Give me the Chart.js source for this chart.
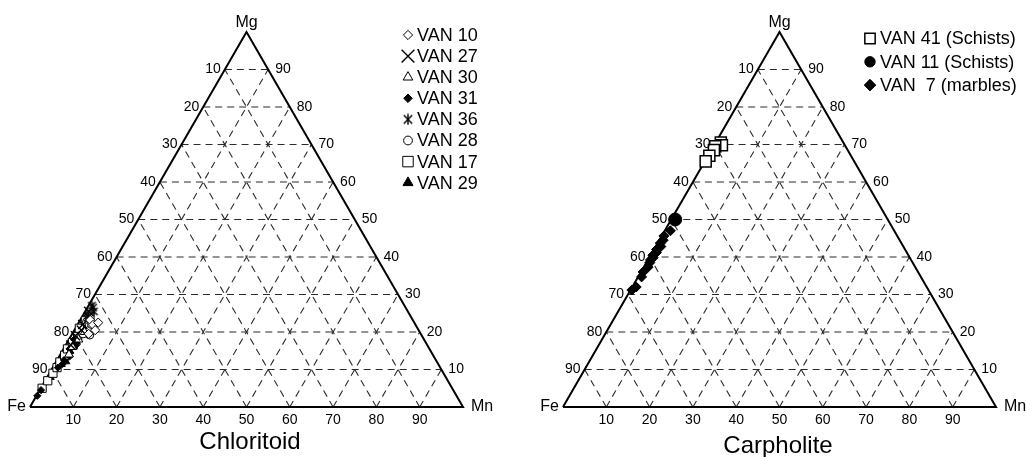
<!DOCTYPE html>
<html><head><meta charset="utf-8">
<script src="https://cdn.jsdelivr.net/npm/chart.js@4/dist/chart.umd.min.js"></script>
<style>
html,body{margin:0;padding:0;background:#fff;}
#wrap{position:relative;width:1026px;height:457px;overflow:hidden;}
.c{position:absolute;top:0;width:513px;height:457px;}
</style></head><body>
<div id="wrap">
<div class="c" style="left:0"><canvas id="c1" width="513" height="457"></canvas></div>
<div class="c" style="left:513px"><canvas id="c2" width="513" height="457"></canvas></div>
</div>
<script>
// ---------- data (percent values; Fe = 100 - Mg - Mn) ----------
const TICKS = [10, 20, 30, 40, 50, 60, 70, 80, 90];
const VERTEX_LABELS = ['Fe', 'Mn', 'Mg'];
const TITLES = ['Chloritoid', 'Carpholite'];

// Chloritoid series: [Mg, Mn]
const CHL_NAMES = ['VAN 10', 'VAN 27', 'VAN 30', 'VAN 31', 'VAN 36', 'VAN 28', 'VAN 17', 'VAN 29'];
const VAN10 = [[23.2, 2.3], [21.9, 3.6], [20.5, 4.8], [22.5, 4.5], [19.5, 3.8]];
const VAN27 = [[25.5, 0.8], [24.0, 1.5], [22.0, 1.2], [20.5, 1.6], [19.0, 1.0], [16.5, 1.2]];
const VAN30 = [[18.0, 2.2], [16.0, 1.8], [14.0, 2.0], [20.0, 2.6]];
const VAN31 = [[3.0, 0.2], [4.5, 0.3], [10.5, 1.2], [11.5, 1.8], [12.5, 1.6], [14.5, 2.0], [15.5, 1.4], [16.5, 2.4], [18.0, 1.2], [13.5, 2.4], [17.2, 2.0]];
const VAN36 = [[26.5, 1.3], [25.5, 2.0], [24.5, 1.2], [27.0, 0.8]];
const VAN28 = [[22.7, 1.7], [21.5, 2.8], [20.5, 3.5], [19.2, 4.2], [22.0, 3.2], [19.5, 2.5]];
const VAN17 = [[5.0, 0.3], [7.0, 0.6], [9.0, 0.8], [10.5, 1.0], [12.0, 0.9], [13.8, 1.1], [15.5, 0.9], [17.2, 1.2], [18.8, 1.6], [21.0, 0.9], [23.0, 1.3], [24.5, 1.6]];
const VAN29 = [[8.0, 0.6], [11.5, 1.4], [12.2, 2.1], [13.0, 1.3], [14.2, 1.5], [15.0, 1.6], [16.2, 1.9], [17.5, 1.8], [19.5, 1.3], [21.0, 1.5]];

// Carpholite series: [Mg, Mn]
const CAR_NAMES = ['VAN 41 (Schists)', 'VAN 11 (Schists)', 'VAN  7 (marbles)'];
const VAN41 = [[70.5, 1.2], [69.8, 1.8], [69.5, 0.4], [68.5, 0.6], [67.0, 0.3], [65.5, 0.2]];
const VAN11 = [[50.0, 0.9]];
const VAN7 = [[47.0, 1.3], [45.6, 0.5], [44.5, 0.9], [43.7, 0.6], [42.8, 1.2], [42.0, 0.6], [41.2, 1.0], [40.5, 0.5], [39.8, 0.9], [39.2, 0.6], [38.5, 0.8], [37.3, 1.0], [36.0, 0.5], [34.7, 0.8], [32.0, 0.9], [31.2, 0.3]];

// ---------- helpers ----------
const FONT = '"Liberation Sans", Arial, Helvetica, sans-serif';
const PX = 4.33;               // pixels per percent along an edge
const HF = Math.sqrt(3) / 2;
function tern(mg, mn) { return { x: mn + mg / 2, y: mg * HF }; }

function makeAsterisk(size, lw) {
  const c = document.createElement('canvas');
  c.width = size; c.height = size;
  const g = c.getContext('2d');
  g.strokeStyle = '#000'; g.lineWidth = lw;
  const m = size / 2, a = size / 2 - 0.6;
  g.beginPath();
  g.moveTo(m, m - a); g.lineTo(m, m + a);
  const d = a * 0.78;
  g.moveTo(m - d, m - d); g.lineTo(m + d, m + d);
  g.moveTo(m + d, m - d); g.lineTo(m - d, m + d);
  g.stroke();
  return c;
}
const AST_SMALL = makeAsterisk(11, 1.3);
const AST_LEG = makeAsterisk(12, 1.4);

const CHL_STYLE = [
  { ps: 'rectRot', fill: '#fff', r: 4.6, lr: 4.6, bw: 1 },
  { ps: 'crossRot', fill: '#000', r: 6.5, lr: 9, bw: 1.4 },
  { ps: 'triangle', fill: '#fff', r: 5, lr: 5.6, bw: 1 },
  { ps: 'rectRot', fill: '#000', r: 3.6, lr: 4.3, bw: 1 },
  { ps: AST_SMALL, legPs: AST_LEG, fill: '#000', r: 5, lr: 6, bw: 1.2 },
  { ps: 'circle', fill: '#fff', r: 4, lr: 4.4, bw: 1 },
  { ps: 'rect', fill: '#fff', r: 5.8, lr: 7.4, bw: 1 },
  { ps: 'triangle', fill: '#000', r: 5, lr: 5.8, bw: 1 }
];
const CAR_STYLE = [
  { ps: 'rect', fill: '#fff', r: 7.8, lr: 7.3, bw: 1.5 },
  { ps: 'circle', fill: '#000', r: 6.5, lr: 5.2, bw: 1 },
  { ps: 'rectRot', fill: '#000', r: 5, lr: 5.8, bw: 1 }
];

function gridDatasets() {
  const ds = [];
  const mk = (a, b) => ({
    data: [tern(a[0], a[1]), tern(b[0], b[1])],
    showLine: true, pointRadius: 0, borderColor: '#2a2a2a', borderWidth: 1.1,
    borderDash: [7, 5], order: 3, clip: false
  });
  TICKS.forEach(t => {
    ds.push(mk([t, 0], [t, 100 - t]));        // constant Mg
    ds.push(mk([0, t], [100 - t, t]));        // constant Mn
    ds.push(mk([0, 100 - t], [100 - t, 0]));  // constant Fe
  });
  ds.push({
    data: [tern(0, 0), tern(0, 100), tern(100, 0), tern(0, 0)],
    showLine: true, pointRadius: 0, borderColor: '#000', borderWidth: 2,
    order: 2, clip: false, borderJoinStyle: 'miter'
  });
  return ds;
}

function seriesDatasets(names, arrays, styles) {
  return names.map((n, i) => ({
    label: n,
    data: arrays[i].map(p => tern(p[0], p[1])),
    showLine: false,
    pointStyle: styles[i].ps,
    pointRadius: styles[i].r,
    pointBackgroundColor: styles[i].fill,
    pointBorderColor: '#000',
    pointBorderWidth: styles[i].bw,
    order: 1, clip: false,
    legendIndex: i
  }));
}

function textPlugin(cfg) {
  return {
    id: 'ternText',
    afterDatasetsDraw(chart) {
      const ctx = chart.ctx, xs = chart.scales.x, ys = chart.scales.y;
      const P = (mg, mn) => { const t = tern(mg, mn); return [xs.getPixelForValue(t.x), ys.getPixelForValue(t.y)]; };
      ctx.save();
      ctx.fillStyle = '#000';
      // vertex labels
      ctx.font = '16px ' + FONT;
      ctx.textBaseline = 'middle';
      let [fx, fy] = P(0, 0);
      ctx.textAlign = 'right'; ctx.fillText(VERTEX_LABELS[0], fx - 4, fy);
      let [mx, my] = P(0, 100);
      ctx.textAlign = 'left'; ctx.fillText(VERTEX_LABELS[1], mx + 8, my);
      let [gx, gy] = P(100, 0);
      ctx.textAlign = 'center'; ctx.textBaseline = 'alphabetic'; ctx.fillText(VERTEX_LABELS[2], gx, gy - 5);
      // tick labels
      ctx.font = '14px ' + FONT;
      ctx.textBaseline = 'middle';
      TICKS.forEach(t => {
        let [bx, by] = P(0, t);
        ctx.textAlign = 'center'; ctx.fillText(String(t), bx, by + 13);
        let [lx, ly] = P(100 - t, 0);
        ctx.textAlign = 'right'; ctx.fillText(String(t), lx - 4, ly);
        let [rx, ry] = P(t, 100 - t);
        ctx.textAlign = 'left'; ctx.fillText(String(t), rx + 7, ry);
      });
      // legend
      ctx.font = '18px ' + FONT;
      ctx.textAlign = 'left'; ctx.textBaseline = 'middle';
      chart.data.datasets.forEach(ds => {
        if (ds.legendIndex === undefined) return;
        const st = cfg.styles[ds.legendIndex];
        const yy = cfg.legY + ds.legendIndex * cfg.legStep;
        ctx.save();
        ctx.fillStyle = st.fill; ctx.strokeStyle = '#000'; ctx.lineWidth = st.bw;
        Chart.helpers.drawPoint(ctx, { pointStyle: st.legPs || st.ps, radius: st.lr, rotation: 0, borderWidth: st.bw }, cfg.legMarkX, yy);
        ctx.restore();
        ctx.fillStyle = '#000';
        ctx.fillText(ds.label, cfg.legTextX, yy + 1);
      });
      // title
      ctx.font = '24px ' + FONT;
      ctx.textAlign = 'center'; ctx.textBaseline = 'alphabetic';
      ctx.fillText(cfg.title, (fx + mx) / 2 + cfg.titleDx, cfg.titleY);
      ctx.restore();
    }
  };
}

function makeChart(id, feX, feY, names, arrays, styles, cfg) {
  const W = 513, Hh = 457;
  const datasets = gridDatasets().concat(seriesDatasets(names, arrays, styles));
  cfg.styles = styles;
  return new Chart(document.getElementById(id), {
    type: 'scatter',
    data: { datasets },
    options: {
      responsive: false, animation: false, devicePixelRatio: 1, events: [],
      layout: { padding: 0, autoPadding: false },
      plugins: { legend: { display: false }, tooltip: { enabled: false }, title: { display: false } },
      scales: {
        x: { type: 'linear', display: false, bounds: 'data', min: -feX / PX, max: (W - feX) / PX },
        y: { type: 'linear', display: false, bounds: 'data', min: -(Hh - feY) / PX, max: feY / PX }
      }
    },
    plugins: [textPlugin(cfg)]
  });
}

makeChart('c1', 30, 407, CHL_NAMES, [VAN10, VAN27, VAN30, VAN31, VAN36, VAN28, VAN17, VAN29], CHL_STYLE,
  { legY: 35, legStep: 21.1, legMarkX: 408, legTextX: 417, title: TITLES[0], titleDx: 3.5, titleY: 449 });
makeChart('c2', 50, 407, CAR_NAMES, [VAN41, VAN11, VAN7], CAR_STYLE,
  { legY: 38.5, legStep: 23.3, legMarkX: 357, legTextX: 367, title: TITLES[1], titleDx: -1.5, titleY: 453 });
</script>
</body></html>
